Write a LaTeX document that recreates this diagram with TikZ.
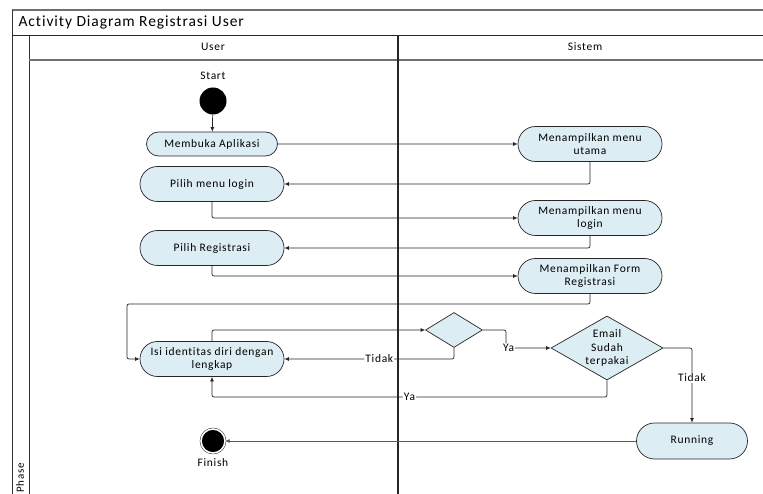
\documentclass[tikz,border=0pt]{standalone}
\usepackage{fontspec}
\setmainfont[LetterSpace=6, Ligatures={NoCommon}]{Carlito}
\usetikzlibrary{shapes.geometric,shapes.misc,arrows.meta}
\definecolor{actfill}{HTML}{DCEDF3}
\definecolor{framegray}{HTML}{707070}

\begin{document}
\begin{tikzpicture}[x=1pt,y=-1pt,
    act/.style={rounded rectangle, draw=black!85, line width=0.7pt, fill=actfill, minimum width=146pt, minimum height=35pt, align=center, inner sep=1pt, font=\fontsize{11.5}{12.8}\selectfont},
    dec/.style={diamond, draw=black!85, line width=0.7pt, fill=actfill, align=center, inner sep=0pt, aspect=1.75, font=\fontsize{11.5}{13.2}\selectfont},
    flow/.style={draw=black!85, line width=0.7pt, rounded corners=2pt, -{Latex[length=4.5pt,width=4pt]}},
    lbl/.style={fill=white, inner sep=1pt, font=\fontsize{11.5}{12}\selectfont}]
        \useasboundingbox (0,0) rectangle (763,494);
        % Swimlane frame
        \draw[framegray, line width=1.5pt] (12,10) -- (763,10);
        \draw[black!80, thick] (12,10) -- (12,494);
        \draw[black!80, thick] (29,35) -- (29,494);
        \draw[black!85] (12,35) -- (763,35);
        \draw[framegray, line width=1.2pt] (29,60) -- (763,60);
        \draw[black!85, line width=2pt] (398,35) -- (398,494);
        \node[anchor=west, font=\fontsize{15.5}{17}\selectfont] (title) at (15,23) {Activity Diagram Registrasi User};
        \node[font=\fontsize{11.5}{12}\selectfont] (laneuser) at (213,47) {User};
        \node[font=\fontsize{11.5}{12}\selectfont] (lanesistem) at (585,47) {Sistem};
        \node[rotate=90, font=\fontsize{11}{12}\selectfont] (phase) at (20,478) {Phase};

        % Start and finish
        \node[circle, fill=black, minimum size=27pt, inner sep=0pt] (start) at (213,101) {};
        \node[font=\fontsize{11.5}{12}\selectfont] (startlbl) at (213,76) {Start};
        \node[circle, draw=black, fill=black, double=white, double distance=1.6pt, minimum size=24pt, inner sep=0pt] (finish) at (213,441) {};
        \node[font=\fontsize{11.5}{12}\selectfont] (finishlbl) at (213,463) {Finish};

        % User lane
        \node[act, minimum width=133pt, minimum height=24pt] (buka) at (212,144) {Membuka Aplikasi};
        \node[act] (pilihlogin) at (212,184) {Pilih menu login};
        \node[act] (pilihreg) at (212,248) {Pilih Registrasi};
        \node[act] (isi) at (212,359) {Isi identitas diri dengan\\lengkap};
        \node[dec, minimum width=57pt, minimum height=35pt] (cek) at (454,330) {};

        % Sistem lane
        \node[act] (menuutama) at (590,144) {Menampilkan menu\\utama};
        \node[act] (menulogin) at (590,218) {Menampilkan menu\\login};
        \node[act] (form) at (590,276) {Menampilkan Form\\Registrasi};
        \node[dec, minimum width=112pt, minimum height=64pt] (email) at (607,348) {Email\\Sudah\\terpakai};
        \node[act, minimum width=113pt, minimum height=36pt] (running) at (692,441) {Running};

        % Flows
        \draw[flow] (start) -- (buka);
        \draw[flow] (buka) -- (menuutama);
        \draw[flow] (menuutama.south) |- (pilihlogin.east);
        \draw[flow] (pilihlogin.south) |- (menulogin.west);
        \draw[flow] (menulogin.south) |- (pilihreg.east);
        \draw[flow] (pilihreg.south) |- (form.west);
        \draw[flow] (form.south) -- (590,304) -- (127,304) |- (isi.west);
        \draw[flow] (isi.north) |- (cek.west);
        \draw[flow] (cek.south) |- (isi.east) node[lbl, pos=0.72] {Tidak};
        \draw[flow] (cek.east) -- (506,330) |- (email.west) node[lbl, pos=0.53] {Ya};
        \draw[flow] (email.south) -- (607,397) -| (isi.south) node[lbl, pos=0.25] {Ya};
        \draw[flow] (email.east) -| (running.north) node[lbl, pos=0.7] {Tidak};
        \draw[flow, draw=black!65] (running) -- (finish);
\end{tikzpicture}
\end{document}
